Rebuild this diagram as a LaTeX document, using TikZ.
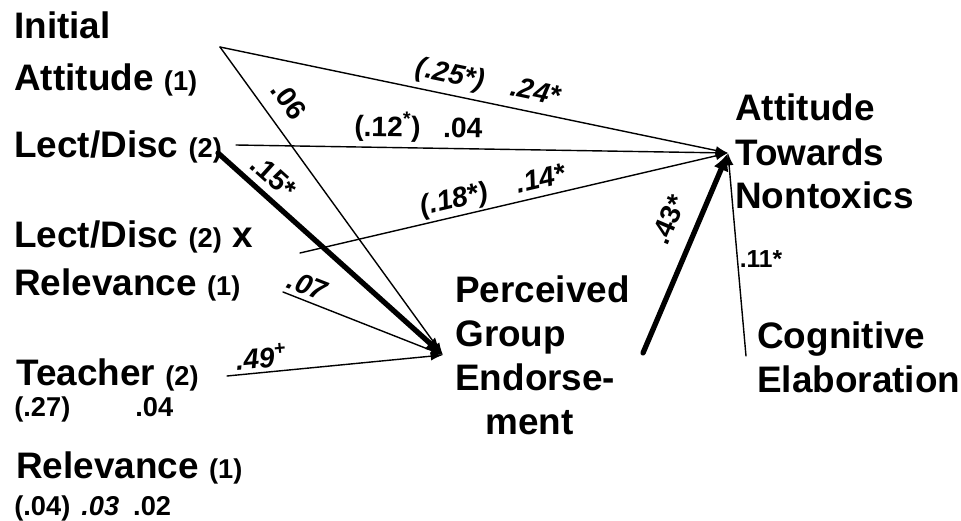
\documentclass[tikz,border=0pt]{standalone}
\usepackage{fontspec}
\setmainfont{Liberation Sans}
\usetikzlibrary{arrows.meta}

\newcommand{\varfont}{\fontsize{21}{24}\selectfont\bfseries}
\newcommand{\coeffont}{\fontsize{16}{18}\selectfont\bfseries}
\newcommand{\idx}[1]{{\fontsize{15.5}{17}\selectfont(#1)}}

\begin{document}
\begin{tikzpicture}[x=0.02cm, y=-0.02cm, line cap=round, line join=round,
  var/.style={anchor=base west, inner sep=0pt, font=\varfont},
  est/.style={anchor=base west, inner sep=0pt, font=\fontsize{15.5}{17}\selectfont\bfseries},
  coef/.style={font=\coeffont, inner sep=1pt, sloped},
  coefit/.style={coef, font=\coeffont\itshape},
  link/.style={-{Latex[length=7pt,width=5pt]}, line width=.8pt},
  heavy/.style={-{Latex[length=10pt,width=9pt]}, line width=3pt}]
  \useasboundingbox (0,0) rectangle (961,521);

  % Predictors.
  \node[var] (ia-a) at (14,38) {Initial};
  \node[var] (ia-b) at (14,90) {Attitude \idx{1}};
  \node[var] (ld) at (14,157) {Lect/Disc \idx{2}};
  \node[var] (ldr-a) at (14,247) {Lect/Disc \idx{2} x};
  \node[var] (ldr-b) at (14,295) {Relevance \idx{1}};
  \node[var] (tch) at (16,385) {Teacher \idx{2}};
  \node[est] (tch-est) at (14,416) {(.27)\hspace{1.3cm}.04};
  \node[var] (rel) at (16,478) {Relevance \idx{1}};
  \node[est] (rel-est) at (14,515) {(.04)\hspace{.22cm}\textit{.03}\hspace{.28cm}.02};

  % Mediator and outcomes.
  \node[var] (pge-a) at (455,302) {Perceived};
  \node[var] (pge-b) at (455,346) {Group};
  \node[var] (pge-c) at (455,390) {Endorse-};
  \node[var] (pge-d) at (485,434) {ment};
  \node[var] (atn-a) at (735,120) {Attitude};
  \node[var] (atn-b) at (735,165) {Towards};
  \node[var] (atn-c) at (735,208) {Nontoxics};
  \node[var] (ce-a) at (757,348) {Cognitive};
  \node[var] (ce-b) at (757,392) {Elaboration};

  % Line ends.
  \coordinate (ia-out) at (220,47);
  \coordinate (ld-out) at (236,145);
  \coordinate (ld-thk) at (218,153);
  \coordinate (ldr-out) at (300,253);
  \coordinate (ldr-low) at (283,292);
  \coordinate (tch-out) at (227,376);
  \coordinate (pge-out) at (643,353);
  \coordinate (ce-out) at (746,356);
  \coordinate (atn-in) at (728,153);
  \coordinate (pge-in) at (443,355);

  % Paths into the attitude.
  \draw[link] (ia-out) -- node[coefit, pos=.52, above=2pt] {(.25*)\hspace{.55cm}.24*} (atn-in);
  \draw[link] (ld-out) -- node[coef, pos=.37, above=1.5pt] {(.12\textsuperscript{*})\hspace{.45cm}.04} (atn-in);
  \draw[link] (ldr-out) -- node[coefit, pos=.46, above=0pt] {(.18*)\hspace{.6cm}.14*} (atn-in);
  \draw[heavy] (pge-out) -- node[coef, pos=.61, above=8pt] {.43*} (atn-in);
  \draw[link] (ce-out) -- node[pos=.48, right=0pt, inner sep=1pt, font=\fontsize{14}{16}\selectfont\bfseries] {.11*} (atn-in);

  % Paths into the group endorsement.
  \draw[link] (ia-out) -- node[coef, pos=.22, above=7pt] {.06} (pge-in);
  \draw[heavy] (ld-thk) -- node[coef, pos=.19, above=3pt] {.15*} (pge-in);
  \draw[link] (ldr-low) -- node[coefit, pos=.12, above=1.5pt] {.07} (pge-in);
  \draw[link] (tch-out) -- node[coefit, pos=.165, above=1pt] {.49\textsuperscript{+}} (pge-in);
\end{tikzpicture}
\end{document}
